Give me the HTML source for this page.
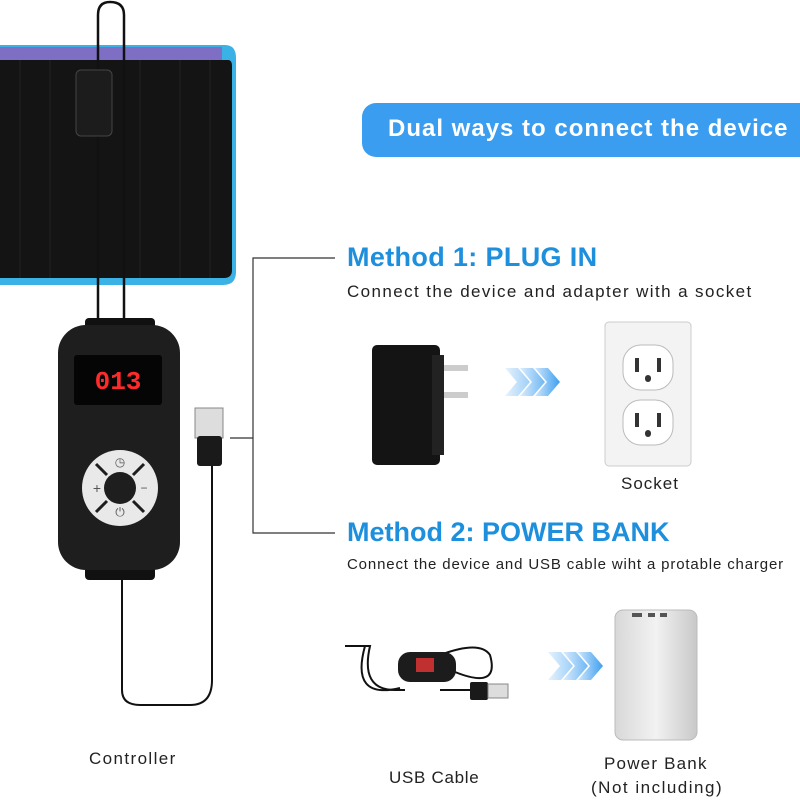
<!DOCTYPE html>
<html><head><meta charset="utf-8"><style>
body{margin:0;width:800px;height:800px;background:#fff;position:relative;overflow:hidden;font-family:"Liberation Sans",sans-serif}
.t{position:absolute;white-space:nowrap}
</style></head><body>
<svg width="800" height="800" style="position:absolute;left:0;top:0">
<defs>
<linearGradient id="pb" x1="0" x2="1"><stop offset="0" stop-color="#d8d8d8"/><stop offset=".5" stop-color="#f2f2f2"/><stop offset="1" stop-color="#c8c8c8"/></linearGradient>
<linearGradient id="ar" x1="0" x2="1"><stop offset="0" stop-color="#cfe6fb"/><stop offset="1" stop-color="#3d9ff0"/></linearGradient>
</defs>
<path d="M0 45 L225 45 Q236 45 236 58 L236 272 Q236 285 223 285 L0 285Z" fill="#3bb2e6"/>
<path d="M0 47 L222 47 L222 62 L0 62Z" fill="#7e6fc4"/>
<path d="M0 60 L228 60 Q232 60 232 66 L232 270 Q232 278 224 278 L0 278Z" fill="#141414"/>
<g stroke="#222" stroke-width="1">
<line x1="20" y1="60" x2="20" y2="278"/><line x1="50" y1="60" x2="50" y2="278"/><line x1="140" y1="60" x2="140" y2="278"/><line x1="180" y1="60" x2="180" y2="278"/><line x1="210" y1="60" x2="210" y2="278"/>
</g>
<path d="M98 320 L98 15 Q98 2 110 2 Q124 2 124 15 L124 320" fill="none" stroke="#111" stroke-width="2.5"/>
<rect x="76" y="70" width="36" height="66" rx="5" fill="#1c1c1c" stroke="#444"/>
<rect x="85" y="318" width="70" height="20" rx="4" fill="#111"/>
<rect x="85" y="560" width="70" height="20" rx="4" fill="#111"/>
<rect x="58" y="325" width="122" height="245" rx="28" fill="#1e1e1e"/>
<rect x="74" y="355" width="88" height="50" rx="3" fill="#050505"/>
<text x="118" y="389" text-anchor="middle" font-family="Liberation Mono,monospace" font-size="26" fill="#ff2b2b" font-weight="bold">013</text>
<circle cx="120" cy="488" r="38" fill="#e9e9e9"/>
<circle cx="120" cy="488" r="16" fill="#1e1e1e"/>
<g stroke="#1e1e1e" stroke-width="3"><line x1="96" y1="464" x2="107" y2="475"/><line x1="144" y1="464" x2="133" y2="475"/><line x1="96" y1="512" x2="107" y2="501"/><line x1="144" y1="512" x2="133" y2="501"/></g>
<text x="120" y="466" text-anchor="middle" font-size="12" fill="#555">◷</text>
<text x="97" y="493" text-anchor="middle" font-size="14" fill="#555">+</text>
<text x="144" y="492" text-anchor="middle" font-size="12" fill="#555">−</text>
<text x="120" y="516" text-anchor="middle" font-size="12" fill="#555">⏻</text>
<path d="M122 580 L122 690 Q122 705 140 705 L190 705 Q212 705 212 680 L212 465" fill="none" stroke="#111" stroke-width="2"/>
<rect x="195" y="408" width="28" height="30" fill="#ddd" stroke="#888"/>
<rect x="197" y="436" width="25" height="30" rx="3" fill="#1a1a1a"/>
<g stroke="#333" stroke-width="1.2" fill="none">
<path d="M335 258 L253 258 L253 533 L335 533"/><line x1="230" y1="438" x2="253" y2="438"/>
</g>
<rect x="362" y="103" width="460" height="54" rx="14" fill="#3a9df0"/>
<rect x="372" y="345" width="68" height="120" rx="5" fill="#141414"/>
<rect x="432" y="355" width="12" height="100" fill="#222"/>
<rect x="444" y="365" width="24" height="6" fill="#ccc"/><rect x="444" y="392" width="24" height="6" fill="#ccc"/>
<g fill="url(#ar)">
<path d="M505 368 L518 368 L530 382 L518 396 L505 396 L517 382Z" opacity=".5"/>
<path d="M520 368 L533 368 L545 382 L533 396 L520 396 L532 382Z" opacity=".75"/>
<path d="M535 368 L548 368 L560 382 L548 396 L535 396 L547 382Z"/>
<path d="M548 652 L561 652 L573 666 L561 680 L548 680 L560 666Z" opacity=".5"/>
<path d="M563 652 L576 652 L588 666 L576 680 L563 680 L575 666Z" opacity=".75"/>
<path d="M578 652 L591 652 L603 666 L591 680 L578 680 L590 666Z"/>
</g>
<rect x="605" y="322" width="86" height="144" rx="4" fill="#f3f3f3" stroke="#ccc"/>
<rect x="623" y="345" width="50" height="45" rx="18" fill="#fff" stroke="#bbb"/>
<rect x="623" y="400" width="50" height="45" rx="18" fill="#fff" stroke="#bbb"/>
<g fill="#333"><rect x="635" y="358" width="4" height="14"/><rect x="657" y="358" width="4" height="14"/><rect x="645" y="375" width="6" height="7" rx="3"/>
<rect x="635" y="413" width="4" height="14"/><rect x="657" y="413" width="4" height="14"/><rect x="645" y="430" width="6" height="7" rx="3"/></g>
<path d="M345 646 L370 646 Q360 690 395 690 L405 690 M455 672 Q500 690 490 655 Q480 640 440 655 M440 690 L470 690" fill="none" stroke="#111" stroke-width="2"/>
<path d="M365 646 Q350 700 400 688" fill="none" stroke="#111" stroke-width="2"/>
<rect x="398" y="652" width="58" height="30" rx="12" fill="#1c1c1c"/>
<rect x="416" y="658" width="18" height="14" fill="#c03030"/>
<rect x="470" y="682" width="18" height="18" rx="2" fill="#1a1a1a"/>
<rect x="488" y="684" width="20" height="14" fill="#ddd" stroke="#888"/>
<rect x="615" y="610" width="82" height="130" rx="8" fill="url(#pb)" stroke="#bbb"/>
<rect x="632" y="613" width="10" height="4" fill="#555"/><rect x="648" y="613" width="7" height="4" fill="#555"/><rect x="660" y="613" width="7" height="4" fill="#555"/>
</svg>
<div class="t" style="left:388px;top:115px;font-size:24px;font-weight:bold;color:#fff;letter-spacing:1px">Dual ways to connect the device</div>
<div class="t" style="left:347px;top:242px;font-size:27px;font-weight:bold;color:#1d8fdc;letter-spacing:0.35px">Method 1: PLUG IN</div>
<div class="t" style="left:347px;top:282px;font-size:17px;color:#222;letter-spacing:1.4px">Connect the device and adapter with a socket</div>
<div class="t" style="left:621px;top:474px;font-size:17px;color:#222;letter-spacing:1px">Socket</div>
<div class="t" style="left:347px;top:517px;font-size:27px;font-weight:bold;color:#1d8fdc">Method 2: POWER BANK</div>
<div class="t" style="left:347px;top:556px;font-size:15px;color:#222;letter-spacing:0.85px">Connect the device and USB cable wiht a protable charger</div>
<div class="t" style="left:89px;top:749px;font-size:17px;color:#222;letter-spacing:1.4px">Controller</div>
<div class="t" style="left:389px;top:768px;font-size:17px;color:#222;letter-spacing:0.7px">USB Cable</div>
<div class="t" style="left:604px;top:754px;font-size:17px;color:#222;letter-spacing:1.2px">Power Bank</div>
<div class="t" style="left:591px;top:778px;font-size:17px;color:#222;letter-spacing:1.5px">(Not including)</div>
</body></html>
